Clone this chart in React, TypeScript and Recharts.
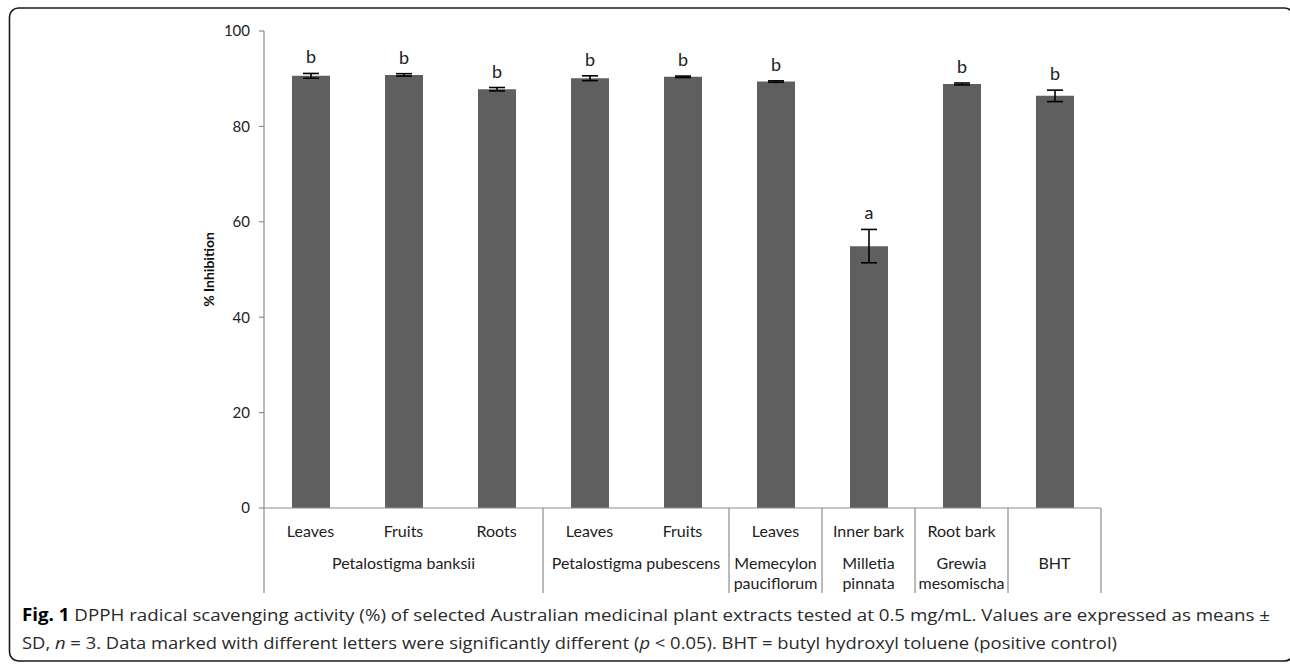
import React from 'react';
import { BarChart, Bar, XAxis, YAxis, ErrorBar, LabelList } from 'recharts';

const categories = ['Leaves', 'Fruits', 'Roots', 'Leaves', 'Fruits', 'Leaves', 'Inner bark', 'Root bark', ''];
const groupLines = [
  ['Petalostigma banksii'],
  ['Petalostigma pubescens'],
  ['Memecylon', 'pauciflorum'],
  ['Milletia', 'pinnata'],
  ['Grewia', 'mesomischa'],
  ['BHT'],
];
const groupOf = [0, 0, 0, 1, 1, 2, 3, 4, 5];
const meanValues = [90.6, 90.8, 87.8, 90.1, 90.4, 89.4, 54.9, 88.9, 86.4];
const sdValues = [0.5, 0.25, 0.35, 0.5, 0.15, 0.15, 3.5, 0.2, 1.2];
const letters = ['b', 'b', 'b', 'b', 'b', 'b', 'a', 'b', 'b'];
const yTicks = [0, 20, 40, 60, 80, 100];

const data = categories.map((c, i) => ({
  id: 'c' + i,
  cat: c,
  mean: meanValues[i],
  sd: sdValues[i],
}));

const W = 1290;
const H = 664;
const M = { top: 31, right: 189, left: 204, bottom: 56 };
const Y_AXIS_W = 60;
const X_AXIS_H = 100;
const PLOT_W = W - M.left - Y_AXIS_W - M.right;
const BAND = PLOT_W / categories.length;

const FONT = "Lato, 'Open Sans', sans-serif";
const LINE = '#8c8c8c';

const groupSize = (g: number) => groupOf.filter((x) => x === g).length;
const groupStart = (g: number) => groupOf.indexOf(g);

const XTick = (props: any) => {
  const { x, y, index } = props;
  const i = index as number;
  const g = groupOf[i];
  const last = i === categories.length - 1 || groupOf[i + 1] !== g;
  const els: any[] = [];
  if (i === 0) {
    els.push(<line key="l" x1={x - BAND / 2} x2={x - BAND / 2} y1={y} y2={y + 85} stroke={LINE} strokeWidth={1.2} />);
  }
  if (last) {
    els.push(<line key="r" x1={x + BAND / 2} x2={x + BAND / 2} y1={y} y2={y + 85} stroke={LINE} strokeWidth={1.2} />);
  }
  if (categories[i]) {
    els.push(
      <text key="c" x={x} y={y + 29} textAnchor="middle" fontSize={16} fontFamily={FONT} fill="#222">
        {categories[i]}
      </text>
    );
  }
  if (groupStart(g) === i) {
    const cx = x + ((groupSize(g) - 1) * BAND) / 2;
    groupLines[g].forEach((ln, k) => {
      els.push(
        <text key={'g' + k} x={cx} y={y + 61 + k * 20} textAnchor="middle" fontSize={16} fontFamily={FONT} fill="#222">
          {ln}
        </text>
      );
    });
  }
  return <g>{els}</g>;
};

const LetterLabel = (props: any) => {
  const { x, y, width, height, index } = props;
  const v = meanValues[index];
  const pxPer = Number(height) / v;
  const top = Number(y) - sdValues[index] * pxPer;
  return (
    <text x={Number(x) + Number(width) / 2} y={top - 10} textAnchor="middle" fontSize={18} fontFamily={FONT} fill="#222">
      {letters[index]}
    </text>
  );
};

const YLabel = (props: any) => {
  const vb = props.viewBox || {};
  const cx = (vb.x ?? M.left) + 4;
  const cy = (vb.y ?? M.top) + (vb.height ?? 477) / 2;
  return (
    <text
      x={cx}
      y={cy}
      transform={`rotate(-90, ${cx}, ${cy})`}
      textAnchor="middle"
      dominantBaseline="central"
      fontSize={14}
      fontWeight="bold"
      fontFamily={FONT}
      fill="#111"
    >
      % Inhibition
    </text>
  );
};

const CAP_FONT = "'Open Sans', sans-serif";

export default function App() {
  return (
    <div style={{ position: 'absolute', left: 0, top: 0, width: W, height: H, background: '#fff', overflow: 'hidden' }}>
      <svg width={W} height={H} style={{ position: 'absolute', left: 0, top: 0 }}>
        <rect x={9.5} y={8} width={1284} height={653} rx={9} ry={9} fill="none" stroke="#1a1a1a" strokeWidth={1.6} />
        <text x={22} y={621} fontSize={17} fontFamily={CAP_FONT} textLength={1248} lengthAdjust="spacingAndGlyphs" fill="#2a2a2a">
          <tspan fontWeight="bold" fill="#000">Fig. 1</tspan>
          {' DPPH radical scavenging activity (%) of selected Australian medicinal plant extracts tested at 0.5 mg/mL. Values are expressed as means \u00b1'}
        </text>
        <text x={22} y={649} fontSize={17} fontFamily={CAP_FONT} textLength={1095} lengthAdjust="spacingAndGlyphs" fill="#2a2a2a">
          {'SD, '}
          <tspan fontStyle="italic">n</tspan>
          {' = 3. Data marked with different letters were significantly different ('}
          <tspan fontStyle="italic">p</tspan>
          {' < 0.05). BHT = butyl hydroxyl toluene (positive control)'}
        </text>
      </svg>
      <div style={{ position: 'absolute', left: 0, top: 0 }}>
        <BarChart width={W} height={H} data={data} margin={M}>
          <XAxis
            dataKey="id"
            height={X_AXIS_H}
            tickLine={false}
            tickSize={0}
            tickMargin={0}
            interval={0}
            axisLine={{ stroke: LINE, strokeWidth: 1.2 }}
            tick={<XTick />}
          />
          <YAxis
            domain={[0, 100]}
            ticks={yTicks}
            interval={0}
            width={Y_AXIS_W}
            tickSize={5}
            tickMargin={9}
            axisLine={{ stroke: LINE, strokeWidth: 1.2 }}
            tickLine={{ stroke: LINE, strokeWidth: 1.2 }}
            tick={{ fontSize: 15, fill: '#222', fontFamily: FONT }}
            label={<YLabel />}
          />
          <Bar dataKey="mean" fill="#5f5f5f" barSize={38} isAnimationActive={false}>
            <ErrorBar dataKey="sd" width={8} strokeWidth={1.6} stroke="#000" direction="y" />
            <LabelList dataKey="mean" content={<LetterLabel />} />
          </Bar>
        </BarChart>
      </div>
    </div>
  );
}
